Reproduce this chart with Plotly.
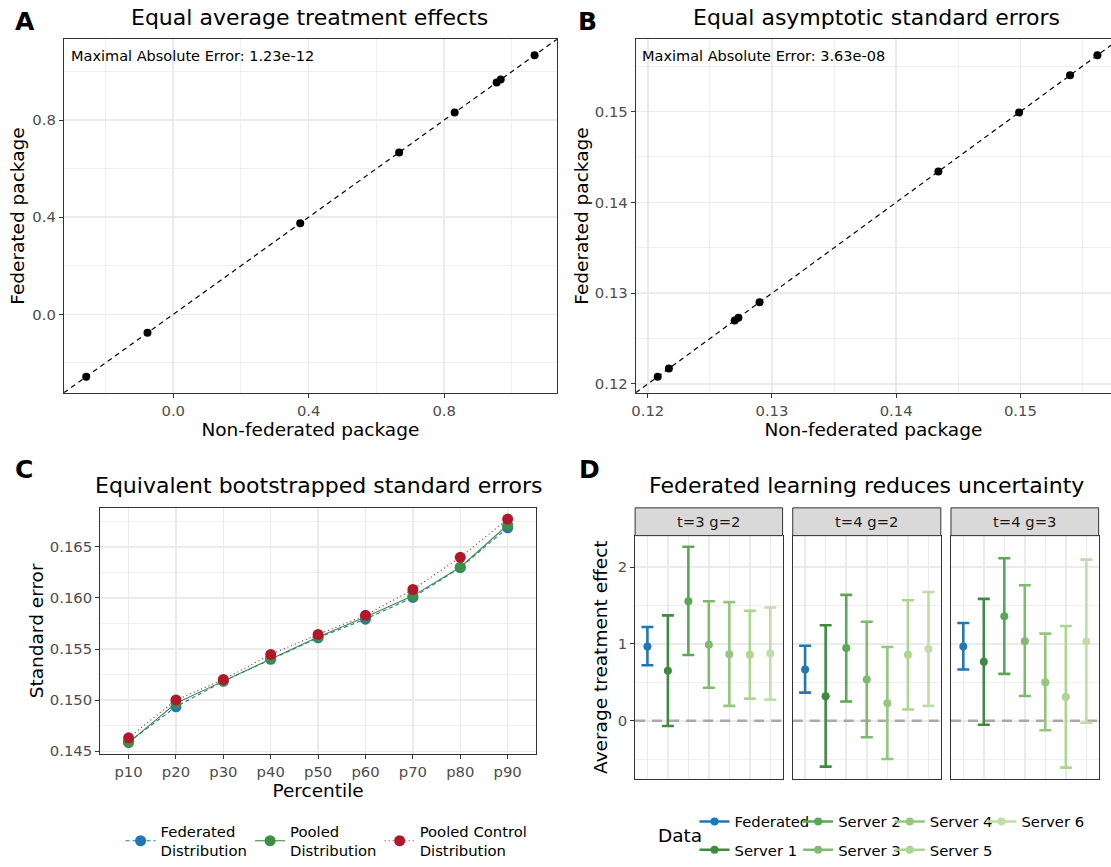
import plotly.graph_objects as go

W, H = 1111, 867
FONT = "DejaVu Sans"

def px(x):
    return x / W

def py(y):
    return 1 - y / H

# ---------------- Panel A data ----------------
ate_nonfederated = [-0.257, -0.076, 0.375, 0.667, 0.831, 0.955, 0.967, 1.067]
ate_federated = [-0.257, -0.076, 0.375, 0.667, 0.831, 0.955, 0.967, 1.067]
ate_max_abs_error = "1.23e-12"

# ---------------- Panel B data ----------------
se_nonfederated = [0.1208, 0.1217, 0.1270, 0.1273, 0.1290, 0.1434, 0.1499, 0.1540, 0.1562]
se_federated = [0.1208, 0.1217, 0.1270, 0.1273, 0.1290, 0.1434, 0.1499, 0.1540, 0.1562]
se_max_abs_error = "3.63e-08"

# ---------------- Panel C data ----------------
percentiles = ["p10", "p20", "p30", "p40", "p50", "p60", "p70", "p80", "p90"]
boot_federated = [0.1459, 0.14935, 0.15185, 0.15400, 0.1561, 0.15792, 0.16005, 0.16295, 0.16686]
boot_pooled = [0.14584, 0.14970, 0.15186, 0.15405, 0.15618, 0.15814, 0.16020, 0.16300, 0.16713]
boot_pooled_control = [0.14632, 0.15002, 0.15202, 0.15447, 0.15643, 0.15830, 0.16082, 0.16397, 0.16771]
c_series_names = ["Federated<br>Distribution", "Pooled<br>Distribution", "Pooled Control<br>Distribution"]

# ---------------- Panel D data ----------------
facets = ["t=3 g=2", "t=4 g=2", "t=4 g=3"]
sources = ["Federated", "Server 1", "Server 2", "Server 3", "Server 4", "Server 5", "Server 6"]
est_t3g2 = [0.968, 0.650, 1.557, 0.990, 0.865, 0.861, 0.877]
lo_t3g2 = [0.723, -0.069, 0.857, 0.431, 0.194, 0.289, 0.276]
hi_t3g2 = [1.222, 1.373, 2.267, 1.557, 1.545, 1.432, 1.476]
est_t4g2 = [0.667, 0.319, 0.947, 0.538, 0.228, 0.861, 0.934]
lo_t4g2 = [0.366, -0.597, 0.250, -0.214, -0.498, 0.147, 0.194]
hi_t4g2 = [0.977, 1.244, 1.639, 1.290, 0.960, 1.570, 1.677]
est_t4g3 = [0.968, 0.770, 1.360, 1.037, 0.503, 0.310, 1.032]
lo_t4g3 = [0.667, -0.052, 0.611, 0.323, -0.124, -0.610, -0.026]
hi_t4g3 = [1.274, 1.587, 2.116, 1.764, 1.135, 1.235, 2.099]

# ---------------- styles ----------------
GRID = "#EBEBEB"
BORDER = "#333333"
TICKC = "#4D4D4D"
c_colors = ["#1F78B4", "#3E8E47", "#B2182B"]
c_dash = ["4px,3px", "solid", "1px,3px"]
d_colors = ["#1F78B4", "#3E8A41", "#5BA755", "#80BA6E", "#96C67E", "#ABD68F", "#BFDDA9"]


def expand(lo, hi, f=0.05):
    s = hi - lo
    return [lo - f * s, hi + f * s]


fig = go.Figure()

# Panel A
rngA = expand(min(ate_nonfederated + ate_federated), max(ate_nonfederated + ate_federated))
fig.add_trace(go.Scatter(x=rngA, y=rngA, mode="lines", line=dict(color="black", width=1.2, dash="5px,4px"),
                         xaxis="x", yaxis="y", showlegend=False, hoverinfo="skip"))
fig.add_trace(go.Scatter(x=ate_nonfederated, y=ate_federated, mode="markers",
                         marker=dict(color="black", size=8), xaxis="x", yaxis="y", showlegend=False))

# Panel B (the panel runs past the right edge of the figure, as in the original)
B_LEFT, B_RIGHT_FULL = 634, 1119.4
rngBy = expand(min(se_nonfederated), max(se_nonfederated))
visible = (W - B_LEFT) / (B_RIGHT_FULL - B_LEFT)
rngBx = [rngBy[0], rngBy[0] + (rngBy[1] - rngBy[0]) * visible]
fig.add_trace(go.Scatter(x=rngBx, y=rngBx, mode="lines", line=dict(color="black", width=1.2, dash="5px,4px"),
                         xaxis="x2", yaxis="y2", showlegend=False, hoverinfo="skip"))
fig.add_trace(go.Scatter(x=se_nonfederated, y=se_federated, mode="markers",
                         marker=dict(color="black", size=8), xaxis="x2", yaxis="y2", showlegend=False))

# Panel C
c_series = [boot_federated, boot_pooled, boot_pooled_control]
c_legends = ["legend", "legend6", "legend7"]
for name, vals, col, dsh, lg in zip(c_series_names, c_series, c_colors, c_dash, c_legends):
    fig.add_trace(go.Scatter(x=percentiles, y=vals, mode="lines+markers", name=name,
                             line=dict(color=col, width=1.1, dash=dsh),
                             marker=dict(color=col, size=11),
                             xaxis="x3", yaxis="y3", legend=lg))
allC = boot_federated + boot_pooled + boot_pooled_control
rngC = expand(min(allC), max(allC))

# Panel D
d_est = [est_t3g2, est_t4g2, est_t4g3]
d_lo = [lo_t3g2, lo_t4g2, lo_t4g3]
d_hi = [hi_t3g2, hi_t4g2, hi_t4g3]
allD = lo_t3g2 + lo_t4g2 + lo_t4g3 + hi_t3g2 + hi_t4g2 + hi_t4g3
rngD = expand(min(allD), max(allD))
legend_for_source = ["legend2", "legend2", "legend3", "legend3", "legend4", "legend4", "legend5"]
for fi in range(3):
    xa = "x%d" % (4 + fi)
    ya = "y%d" % (4 + fi)
    fig.add_trace(go.Scatter(x=[-0.6, 6.6], y=[0, 0], mode="lines",
                             line=dict(color="#A8A8A8", width=2.6, dash="10px,7px"),
                             xaxis=xa, yaxis=ya, showlegend=False, hoverinfo="skip"))
    for si, src in enumerate(sources):
        e = d_est[fi][si]
        fig.add_trace(go.Scatter(
            x=[si], y=[e], mode="lines+markers", name=src,
            marker=dict(color=d_colors[si], size=8),
            line=dict(color=d_colors[si], width=2.6),
            error_y=dict(type="data", symmetric=False, array=[d_hi[fi][si] - e],
                         arrayminus=[e - d_lo[fi][si]], color=d_colors[si], thickness=2.6, width=6),
            xaxis=xa, yaxis=ya, showlegend=(fi == 0), legend=legend_for_source[si],
            legendgroup=src, hovertext=[src]))

axis_common = dict(showline=True, linecolor=BORDER, linewidth=1, mirror=True,
                   gridcolor=GRID, gridwidth=1.5, zeroline=False,
                   ticks="outside", ticklen=4, tickcolor=BORDER, tickwidth=1,
                   tickfont=dict(family=FONT, size=14.8, color=TICKC))
title_font = dict(family=FONT, size=18.5, color="black")
minor_grid = dict(showgrid=True, gridcolor=GRID, gridwidth=0.8, ticks="")
leg_font = dict(family=FONT, size=14.8, color="black")

layout = dict(
    width=W, height=H, margin=dict(l=0, r=0, t=0, b=0),
    paper_bgcolor="white", plot_bgcolor="white",
    font=dict(family=FONT, color="black"),
    xaxis=dict(axis_common, domain=[px(60), px(555)], range=rngA, tick0=0, dtick=0.4,
               tickformat=".1f", minor=dict(minor_grid, dtick=0.2), anchor="y",
               title=dict(text="Non-federated package", font=title_font, standoff=3)),
    yaxis=dict(axis_common, domain=[py(396), py(39.5)], range=rngA, tick0=0, dtick=0.4,
               tickformat=".1f", minor=dict(minor_grid, dtick=0.2), anchor="x",
               title=dict(text="Federated package", font=title_font, standoff=2)),
    xaxis2=dict(axis_common, domain=[px(B_LEFT), 1.0], range=rngBx, tick0=0, dtick=0.01,
                tickformat=".2f", minor=dict(minor_grid, dtick=0.005), anchor="y2",
                title=dict(text="Non-federated package", font=title_font, standoff=3)),
    yaxis2=dict(axis_common, domain=[py(396), py(39.5)], range=rngBy, tick0=0, dtick=0.01,
                tickformat=".2f", minor=dict(minor_grid, dtick=0.005), mirror=False, anchor="x2",
                title=dict(text="Federated package", font=title_font, standoff=1)),
    xaxis3=dict(axis_common, domain=[px(96.5), px(534)], range=[-0.6, 8.6], type="category",
                anchor="y3", title=dict(text="Percentile", font=title_font, standoff=3)),
    yaxis3=dict(axis_common, domain=[py(760), py(512)], range=rngC, tick0=0, dtick=0.005,
                tickformat=".3f", minor=dict(minor_grid, dtick=0.0025), anchor="x3",
                title=dict(text="Standard error", font=title_font, standoff=1)),
)

# C legends: one per entry so that nothing is clipped
for lg, mx in zip(c_legends, [137, 267, 397]):
    layout[lg] = dict(orientation="v", x=px(mx - 20), xanchor="left", y=py(848), yanchor="middle",
                      font=leg_font, bgcolor="rgba(0,0,0,0)", itemwidth=30)

facet_dom = [(633.4, 781.4), (791.6, 940.2), (950.4, 1098.6)]
for fi, (l, r) in enumerate(facet_dom):
    layout["xaxis%d" % (4 + fi)] = dict(
        axis_common, domain=[px(l), px(r)], range=[-0.6, 6.6], showticklabels=False,
        ticks="", dtick=1, tick0=0, anchor="y%d" % (4 + fi))
    yd = dict(axis_common, domain=[py(785), py(540)], range=rngD, tick0=0, dtick=1,
              minor=dict(minor_grid, dtick=0.5), anchor="x%d" % (4 + fi))
    if fi == 0:
        yd["title"] = dict(text="Average treatment effect", font=title_font, standoff=5)
    else:
        yd["showticklabels"] = False
        yd["ticks"] = ""
    layout["yaxis%d" % (4 + fi)] = yd

# D legends: four columns of the "Data" key
leg_text_x = [733, 837, 929, 1021]
for li, tx in enumerate(leg_text_x):
    layout["legend%d" % (li + 2)] = dict(
        orientation="v", x=px(tx - 40), xanchor="left", y=py(812), yanchor="top",
        font=leg_font, bgcolor="rgba(0,0,0,0)", itemwidth=30, tracegroupgap=6)

fig.update_layout(**layout)

annotations = []
def ann(text, x, y, size, xanchor="center", bold=False, color="black"):
    annotations.append(dict(text=("<b>%s</b>" % text) if bold else text, x=px(x), y=py(y),
                            xref="paper", yref="paper", showarrow=False, xanchor=xanchor,
                            yanchor="middle", font=dict(family=FONT, size=size, color=color)))

ann("A", 21.5, 22, 25, bold=True)
ann("B", 586, 22, 25, bold=True)
ann("C", 20, 473, 25, bold=True)
ann("D", 588, 473, 25, bold=True)
ann("Equal average treatment effects", 307, 18, 22)
ann("Equal asymptotic standard errors", 876, 18, 22)
ann("Equivalent bootstrapped standard errors", 315.5, 489, 22)
ann("Federated learning reduces uncertainty", 866, 489, 22)
ann("Maximal Absolute Error: " + ate_max_abs_error, 65, 56, 14.5, xanchor="left")
ann("Maximal Absolute Error: " + se_max_abs_error, 638, 56, 14.5, xanchor="left")
ann("Data", 678, 842, 18.5)

shapes = []
for fi, (l, r) in enumerate(facet_dom):
    shapes.append(dict(type="rect", xref="paper", yref="paper", x0=px(l), x1=px(r),
                       y0=py(540), y1=py(512), fillcolor="#D9D9D9",
                       line=dict(color=BORDER, width=1), layer="above"))
    ann(facets[fi], (l + r) / 2, 526, 14.8, color="#1A1A1A")

fig.update_layout(annotations=annotations, shapes=shapes)
# remove the browser's default 8px page margin so the figure fills the window exactly
fig.write_html("out.html", config={"displayModeBar": False, "staticPlot": True},
               post_script="document.body.style.margin='0px';document.body.style.overflow='hidden';")
